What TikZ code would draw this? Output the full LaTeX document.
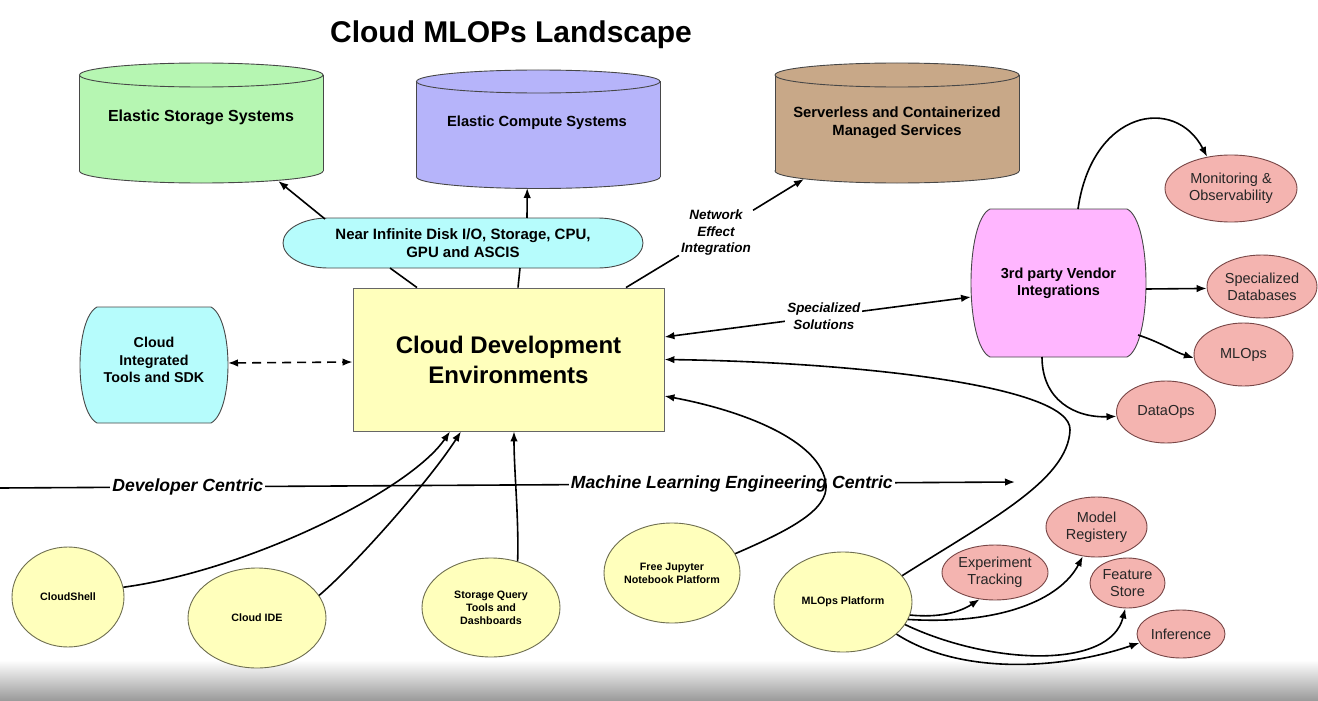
\documentclass[tikz,border=0pt]{standalone}
\usepackage{fontspec}
\setmainfont{Liberation Sans}
\usetikzlibrary{arrows.meta,shapes.geometric,calc}

\definecolor{cgreen}{RGB}{182,246,178}
\definecolor{clav}{RGB}{182,180,250}
\definecolor{ctan}{RGB}{200,168,136}
\definecolor{ccyan}{RGB}{182,252,252}
\definecolor{cyel}{RGB}{255,255,188}
\definecolor{cpink}{RGB}{255,182,255}
\definecolor{cred}{RGB}{244,180,176}
\definecolor{credline}{RGB}{120,70,70}
\definecolor{cyelline}{RGB}{110,110,80}

% drum (cylinder): left x, right x, top-centre y, bottom-centre y, y radius, fill
\newcommand{\drawdrum}[6]{%
  \filldraw[shapeline, fill=#6] ({(#1+#2)/2},#4) ellipse [x radius={(#2-#1)/2}, y radius=#5];
  \fill[#6] (#1,#3) rectangle (#2,#4);
  \draw[shapeline] (#1,#3) -- (#1,#4) (#2,#3) -- (#2,#4);
  \filldraw[shapeline, fill=#6] ({(#1+#2)/2},#3) ellipse [x radius={(#2-#1)/2}, y radius=#5];
}
% barrel: left x, right x, top y, bottom y, corner inset, fill
\newcommand{\barrelshape}[6]{%
  \filldraw[shapeline, fill=#6] ({#1+#5},#3) -- ({#2-#5},#3)
    .. controls ({#2+#5/3},{#3+12}) and ({#2+#5/3},{#4-12}) .. ({#2-#5},#4)
    -- ({#1+#5},#4)
    .. controls ({#1-#5/3},{#4-12}) and ({#1-#5/3},{#3+12}) .. ({#1+#5},#3) -- cycle;
}

\begin{document}
\begin{tikzpicture}[x=1pt,y=-1pt,
  shapeline/.style={draw=black!72, line width=0.9pt},
  line/.style={line width=1.6pt, black},
  arr/.style={line, -{Latex[length=10pt,width=7.5pt]}},
  arrboth/.style={line, {Latex[length=10pt,width=7.5pt]}-{Latex[length=10pt,width=7.5pt]}},
  frame/.style={draw=none, inner sep=0pt, outer sep=0pt},
  lbl/.style={align=center, inner sep=2pt, font=\fontsize{13.5}{16.5}\selectfont\bfseries\itshape},
  axislbl/.style={fill=white, inner sep=2pt, font=\fontsize{17.6}{20}\selectfont\bfseries\itshape},
  redell/.style={ellipse, draw=credline, line width=0.9pt, fill=cred, inner sep=0pt,
    align=center, text=black!85, font=\fontsize{14.5}{17}\selectfont},
  yelell/.style={ellipse, draw=cyelline, line width=0.9pt, fill=cyel, inner sep=0pt,
    align=center, font=\fontsize{10.7}{13}\selectfont\bfseries}
]
\useasboundingbox (0,0) rectangle (1318,701);
\fill[white] (0,0) rectangle (1318,701);
\shade[top color=white, middle color=black!8, bottom color=black!40] (0,660) rectangle (1318,701);

% title
\node[font=\fontsize{30}{36}\selectfont\bfseries] (title) at (511,35) {Cloud MLOPs Landscape};

% resource drums
\drawdrum{79.5}{323}{75}{171}{12}{cgreen}
\drawdrum{416.5}{660}{81.5}{177}{11.5}{clav}
\drawdrum{775}{1019}{75}{171}{12}{ctan}
\node[frame, minimum width=243.5pt, minimum height=120pt] (storage) at (201.25,123) {};
\node[frame, minimum width=243.5pt, minimum height=118pt] (compute) at (538.25,129) {};
\node[frame, minimum width=244pt, minimum height=120pt] (serverless) at (897,123) {};
\node[font=\fontsize{16}{19}\selectfont\bfseries] (storagetext) at (201,117) {Elastic Storage Systems};
\node[font=\fontsize{14.7}{18}\selectfont\bfseries] (computetext) at (537,123) {Elastic Compute Systems};
\node[align=center, font=\fontsize{14.8}{18}\selectfont\bfseries] (serverlesstext) at (897,123)
  {Serverless and Containerized\\Managed Services};

% capacity pill
\filldraw[shapeline, fill=ccyan] (328,218) -- (598,218)
  .. controls (622.85,218) and (643,229.2) .. (643,243)
  .. controls (643,256.8) and (622.85,268) .. (598,268) -- (328,268)
  .. controls (303.15,268) and (283,256.8) .. (283,243)
  .. controls (283,229.2) and (303.15,218) .. (328,218) -- cycle;
\node[frame, minimum width=360pt, minimum height=50pt, align=center,
  font=\fontsize{15}{18}\selectfont\bfseries] (near) at (463,243)
  {Near Infinite Disk I/O, Storage, CPU,\\GPU and ASCIS};

% central box
\node[draw=black!60, line width=0.9pt, fill=cyel, minimum width=311pt, minimum height=143pt,
  align=center, font=\fontsize{24}{30}\selectfont\bfseries] (cde) at (508.5,359.5)
  {Cloud Development\\Environments};

% barrels
\barrelshape{80}{228}{307}{423}{17}{ccyan}
\node[frame, minimum width=148pt, align=center, font=\fontsize{14.3}{17.5}\selectfont\bfseries]
  (sdk) at (154,360) {Cloud\\Integrated\\Tools and SDK};
\barrelshape{971}{1146}{209}{357}{19}{cpink}
\node[frame, minimum width=175pt, minimum height=148pt, align=center,
  font=\fontsize{14.5}{17}\selectfont\bfseries] (vendor) at (1058.5,283)
  {3rd party Vendor\\Integrations};

% vendor offerings
\node[redell, minimum width=132pt, minimum height=67pt] (mon) at (1231,188.5) {Monitoring \&\\Observability};
\node[redell, minimum width=110pt, minimum height=63pt] (specdb) at (1262,286.5) {Specialized\\Databases};
\node[redell, minimum width=99pt, minimum height=63pt] (mlops) at (1243.5,354.5) {MLOps};
\node[redell, minimum width=99pt, minimum height=62pt] (dataops) at (1166,412) {DataOps};

% MLOps platform components
\node[redell, minimum width=101pt, minimum height=60pt] (model) at (1096.5,527) {Model\\Registery};
\node[redell, minimum width=106pt, minimum height=55pt] (exp) at (995,572.5) {Experiment\\Tracking};
\node[redell, minimum width=75pt, minimum height=50pt] (feature) at (1127.5,583) {Feature\\Store};
\node[redell, minimum width=88pt, minimum height=48pt] (inf) at (1181,634) {Inference};

% tools
\node[yelell, minimum width=112pt, minimum height=100pt] (cshell) at (68,597) {CloudShell};
\node[yelell, minimum width=138pt, minimum height=100pt] (cide) at (257,618) {Cloud IDE};
\node[yelell, minimum width=138pt, minimum height=99pt] (sq) at (491,607.5) {Storage Query\\Tools and\\Dashboards};
\node[yelell, minimum width=136pt, minimum height=100pt] (jup) at (672,573) {Free Jupyter\\Notebook Platform};
\node[yelell, minimum width=138pt, minimum height=100pt] (mlp) at (843,602) {MLOps Platform};

% developer to ML engineering axis
\coordinate (axl) at (0,488);
\coordinate (axr) at (1015,482);
\draw[arr] (axl) -- node[pos=0.185, axislbl] (devlbl) {Developer Centric}
  node[pos=0.721, axislbl] (mllbl) {Machine Learning Engineering Centric} (axr);

% capacity links
\draw[arr] ([xshift=-138pt,yshift=-1pt]near.north) -- ([xshift=77pt,yshift=2pt]storage.south);
\draw[arr] ([xshift=64pt]near.north) -- ([xshift=-11pt]compute.south);
\draw[line] ([xshift=-91.5pt]cde.north) -- ([xshift=-73pt]near.south);
\draw[line] ([xshift=9.5pt]cde.north) -- ([xshift=57pt]near.south);
\node[lbl] (neteff) at (716,233) {Network\\Effect\\Integration};
\draw[line] ([xshift=117.5pt]cde.north) -- (neteff);
\draw[arr] (neteff) -- ([xshift=-93pt,yshift=4pt]serverless.south);

% sdk and vendor links
\draw[arrboth, dash pattern=on 9pt off 6pt] ([yshift=-3pt]sdk.east) -- ([yshift=-2.5pt]cde.west);
\draw[arrboth] ([yshift=22.5pt]cde.east) -- node[pos=0.52, lbl, fill=white, font=\fontsize{13.4}{17}\selectfont\bfseries\itshape] (solutions) {Specialized\\Solutions} ([yshift=-14pt]vendor.west);

\draw[arr] ([xshift=19.5pt]vendor.north) .. controls (1092,110) and (1175,95) .. (mon.127.6);
\draw[arr] ([yshift=-6pt]vendor.east) -- (specdb.182.6);
\draw[arr] ([xshift=-8pt,yshift=-52pt]vendor.east) .. controls (1160,342) and (1175,352) .. (mlops.184);
\draw[arr] ([xshift=-16.5pt]vendor.south) .. controls (1042,400) and (1075,418) .. (dataops.185.7);

% tools to environments
\draw[arr] (cshell.10.3) .. controls (250,570) and (410,490) .. ([xshift=-58.5pt]cde.south);
\draw[arr] (cide.20.4) .. controls (355,565) and (430,480) .. ([xshift=-47.5pt]cde.south);
\draw[arr] (sq.60.4) .. controls (519,520) and (514,470) .. ([xshift=5.5pt]cde.south);
\draw[arr] (jup.17.1) .. controls (790,530) and (828,510) .. (826,485)
  .. controls (822,440) and (740,410) .. ([yshift=-36.5pt]cde.east);
\draw[arr] (mlp.24.2) .. controls (990,520) and (1068,480) .. (1070,430)
  .. controls (1072,385) and (850,362) .. (cde.east);

% platform components
\draw[arr] (mlp.-11) .. controls (940,618) and (960,612) .. (exp.240);
\draw[arr] (mlp.-15.5) .. controls (1000,625) and (1060,600) .. (model.245);
\draw[arr] (mlp.-20.4) .. controls (990,665) and (1110,670) .. (feature.265);
\draw[arr] (mlp.-31) .. controls (960,675) and (1060,670) .. (inf.192.4);
\end{tikzpicture}
\end{document}
